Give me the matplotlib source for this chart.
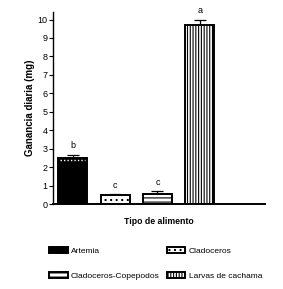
import matplotlib
matplotlib.use("Agg")
import matplotlib.pyplot as plt
import numpy as np

categories = ["Artemia", "Cladoceros", "Cladoceros-Copepodos", "Larvas de cachama"]
values = [2.52, 0.47, 0.52, 9.72]
errors = [0.15, 0.05, 0.16, 0.28]
letters = ["b", "c", "c", "a"]
yticks = list(range(0, 11))

faces = ["black", "white", "white", "white"]
hatches = ["", "...", "----", "||||||"]

plt.rcParams['hatch.linewidth'] = 0.8
plt.rcParams['font.family'] = ['Liberation Sans', 'DejaVu Sans']
fig = plt.figure(figsize=(2.83, 2.89), dpi=100)
ax = fig.add_axes([0.187, 0.294, 0.749, 0.664])

x = np.arange(len(categories))
bars = []
for i in range(len(categories)):
    b = ax.bar(x[i], values[i], width=0.69, color=faces[i], edgecolor="black",
               hatch=hatches[i], linewidth=1.4, label=categories[i], zorder=2)
    bars.append(b)
    ax.errorbar(x[i], values[i], yerr=[[0], [errors[i]]], fmt="none",
                ecolor="black", elinewidth=0.9, capsize=4, capthick=0.9, zorder=1)
    ax.text(x[i], values[i] + errors[i] + 0.25, letters[i], ha="center",
            va="bottom", fontsize=6.5)

# white dotted row on Artemia bar
ax.hlines(values[0] - 0.15, x[0] - 0.3, x[0] + 0.3, colors="white",
          linestyles=(0, (1, 1.5)), linewidth=1.0, zorder=3)

ax.set_xlim(-0.47, 4.54)
ax.set_ylim(0, 10.4)
ax.set_yticks(yticks)
ax.tick_params(axis="y", labelsize=6.5, length=3, width=0.8, pad=1)
ax.set_xticks([])
for s in ["top", "right"]:
    ax.spines[s].set_visible(False)
ax.spines["left"].set_linewidth(1.0)
ax.spines["bottom"].set_linewidth(1.4)
ax.set_ylabel("Ganancia diaria (mg)", fontsize=7, fontweight="bold", labelpad=2)
ax.set_xlabel("Tipo de alimento", fontsize=6.3, fontweight="bold", labelpad=9)

handles = [bars[0], bars[2], bars[1], bars[3]]
labels = [categories[0], categories[2], categories[1], categories[3]]
fig.legend(handles, labels, loc="lower center", bbox_to_anchor=(0.55, 0.005),
           ncol=2, frameon=False, fontsize=6, handlelength=2.2, handleheight=0.7,
           columnspacing=0.9, labelspacing=2.1, handletextpad=0.4)

fig.savefig("out.png", dpi=100)
